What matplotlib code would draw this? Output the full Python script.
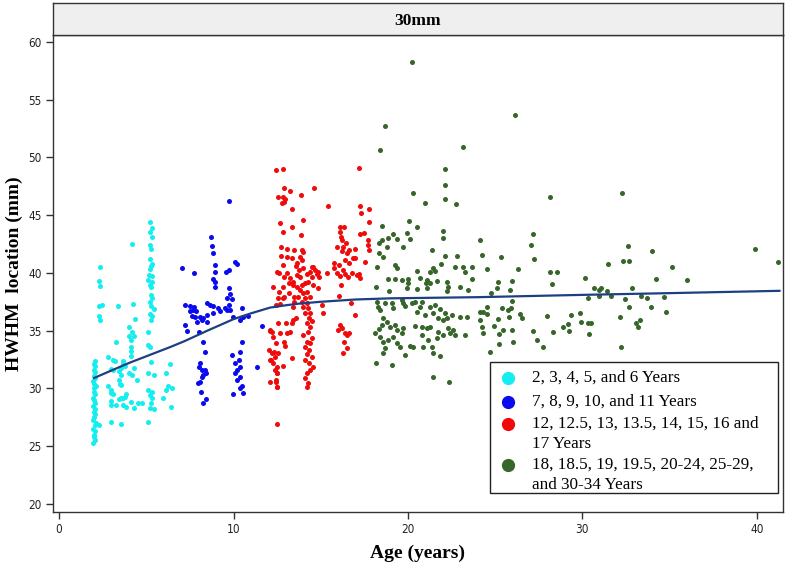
import matplotlib
matplotlib.use("Agg")
import matplotlib.pyplot as plt
from matplotlib.patches import Rectangle

# ---------------- data (age in years, HWHM location in mm) ----------------
cyan_age = [1.95, 2.05, 2.0, 1.98, 2.08, 1.97, 2.03, 2.1, 1.96, 2.02, 2.06, 1.99, 2.04, 1.95,
            2.07, 2.0, 1.97, 2.05, 2.02, 1.98, 2.09, 2.01, 1.96, 2.04, 2.0, 2.06, 1.98, 2.03,
            2.0, 2.05, 2.35, 2.3, 2.32, 2.3, 2.45, 2.3, 2.33, 2.31,
            3.4, 4.26, 4.17, 5.2, 5.35, 5.2, 5.35, 5.2, 5.25, 5.2, 5.3, 5.25, 5.2, 5.15, 5.35,
            5.1, 5.35, 5.2, 5.25, 5.25, 5.35, 5.2, 5.25, 5.45, 5.2, 5.35, 5.25, 5.1, 5.1, 5.2,
            5.25, 5.1, 5.45, 5.1, 5.35, 5.2, 5.35, 5.25, 5.2, 5.45, 5.1, 6.36, 6.13, 6.1, 6.25,
            6.45, 5.95, 6.4,
            4.36, 4.03, 4.2, 4.03, 4.27, 4.12, 3.27, 4.12, 4.12, 4.12, 2.83, 3.1, 3.2, 3.65,
            3.65, 3.55, 3.75, 3.1, 3.0, 4.3, 4.03, 4.2, 3.45, 3.55, 3.45, 3.5, 3.55, 4.45, 2.83,
            3.0, 3.1, 2.95, 3.83, 3.55, 3.65, 3.75, 3.45, 3.0, 2.95, 3.25, 4.12, 4.3, 4.5, 4.75,
            3.65, 3.85, 2.97, 3.55]
cyan_val = [25.3, 25.5, 25.8, 26.0, 26.3, 26.5, 26.8, 27.0, 27.3, 27.5, 27.8, 28.0, 28.2, 28.5,
            28.7, 29.0, 29.2, 29.5, 29.7, 30.0, 30.2, 30.4, 30.6, 30.9, 31.1, 31.4, 31.6, 31.9,
            32.1, 32.4, 40.5, 39.3, 38.9, 37.1, 37.2, 36.3, 35.9, 26.8,
            37.1, 37.3, 42.5, 44.4, 43.9, 43.5, 43.1, 42.4, 42.05, 41.2, 40.8, 40.6, 40.3, 39.8,
            39.7, 39.4, 39.25, 38.96, 38.76, 38.1, 37.8, 37.5, 37.1, 36.9, 36.45, 36.3, 35.9,
            34.9, 33.8, 33.6, 32.3, 31.3, 31.2, 29.9, 29.7, 29.4, 29.15, 28.7, 28.3, 28.2, 27.1,
            32.1, 31.3, 29.9, 30.2, 30.0, 29.2, 28.4,
            36.0, 35.35, 34.9, 34.5, 34.5, 34.2, 34.0, 33.6, 33.2, 32.8, 32.7, 32.5, 32.4, 32.4,
            32.1, 31.8, 31.9, 31.6, 31.7, 31.8, 31.3, 31.2, 31.5, 31.2, 30.7, 30.4, 30.3, 30.7,
            30.2, 29.9, 29.5, 29.6, 29.5, 29.2, 29.2, 29.3, 29.1, 28.9, 28.6, 28.6, 28.8, 28.3,
            28.7, 28.7, 28.6, 28.4, 27.1, 26.9]

blue_age = [9.74, 8.71, 8.75, 8.84, 7.03, 7.74, 8.94, 8.94, 8.84, 8.94, 8.94, 10.08, 10.18,
            9.76, 9.57, 9.76, 9.8, 9.65, 9.89, 9.76, 9.65, 7.22, 7.51, 7.74, 7.66, 7.51, 7.85,
            7.6, 7.79, 8.08, 7.89, 8.17, 8.46, 8.65, 8.8, 9.13, 9.23, 8.84, 8.46, 8.27, 8.46,
            9.51, 9.8, 9.95, 10.47, 10.52, 10.85, 10.37, 7.22, 7.32, 8.04, 11.61, 10.47, 10.37,
            9.89, 10.33, 8.23, 8.37, 8.08, 8.04, 8.17, 8.37, 8.27, 8.17, 8.08, 8.42, 7.98, 8.12,
            8.42, 8.23, 10.08, 10.37, 10.18, 10.08, 10.37, 10.47, 10.37, 9.99, 10.56, 10.18, 11.33]
blue_val = [46.2, 43.1, 42.3, 41.76, 40.41, 39.97, 40.7, 40.12, 39.45, 39.25, 38.82, 40.98,
            40.78, 40.26, 40.12, 38.67, 38.18, 37.81, 37.72, 37.23, 36.8, 37.23, 37.15, 37.09,
            36.8, 36.66, 36.66, 36.28, 36.22, 36.22, 35.79, 35.93, 37.38, 37.23, 37.15, 36.94,
            36.66, 36.51, 36.37, 36.08, 35.79, 36.94, 36.8, 36.22, 36.94, 36.22, 36.28, 35.93,
            35.5, 35.01, 34.92, 35.41, 34.06, 33.19, 32.9, 32.47, 34.06, 33.19, 32.18, 31.89,
            31.6, 31.6, 31.17, 31.03, 30.59, 31.32, 30.51, 29.73, 29.09, 28.72, 32.18, 31.84,
            31.6, 31.37, 31.03, 30.22, 30.02, 29.53, 29.58, 30.74, 31.89]

red_age = [12.7, 13.05, 13.47, 12.7, 13.33, 13.09, 12.86, 12.51, 12.63, 13.05, 12.9, 13.24,
           13.2, 13.43, 12.25, 12.86, 12.63, 13.2, 12.9, 12.57, 12.82, 13.47, 12.44, 12.67,
           13.43, 13.47, 12.09, 12.19, 12.57, 12.67, 13.05, 13.01, 13.33, 13.24, 13.43, 13.58,
           12.44, 12.9, 12.05, 12.32, 12.57, 12.95, 13.33, 12.13, 12.28, 12.48, 12.38, 12.82,
           12.09, 12.44, 12.48, 12.48, 12.51,
           12.9, 13.24, 12.57, 12.82, 12.95, 12.76, 12.9, 13.35, 12.67, 12.82, 13.33, 12.44,
           12.82,
           13.85, 14.61, 13.97, 13.85,
           13.91, 14.0, 13.81, 13.66, 13.91, 13.58, 13.77, 14.0, 14.48, 14.39, 14.67, 14.86,
           13.62, 13.81, 14.19, 14.48, 14.81, 13.43, 13.62, 13.91, 14.1, 14.29, 14.58, 13.81,
           14.0, 14.19, 13.72, 14.1, 14.39, 14.86, 13.91, 14.19, 13.97, 14.29, 14.39, 14.1,
           14.35, 14.48, 14.19, 14.39, 14.29, 14.0, 14.48, 14.19, 14.39, 14.1, 14.35, 14.19,
           14.48, 14.1, 14.35, 14.58, 14.39, 14.19, 14.1, 14.29, 14.19,
           15.4, 16.1, 16.33, 16.1, 16.14, 16.2, 16.45, 16.3, 15.95, 16.64, 16.2, 16.96, 16.52,
           16.87, 15.76, 16.07, 16.26, 15.76, 15.95, 16.39, 16.1, 16.58, 16.77, 17.06, 17.25,
           17.21, 16.39, 16.64, 16.98, 15.34, 16.16, 16.03, 16.72, 16.96, 16.1, 16.2, 16.01,
           16.39, 16.64, 16.52, 16.33, 16.3, 16.49, 15.05, 15.15, 14.92, 14.58, 17.25, 17.29,
           17.75, 17.75, 17.25, 17.48, 17.73, 17.73, 17.79, 17.54, 17.21,
           12.09, 12.28, 12.19, 12.38, 12.09, 12.47, 12.43, 12.47]
red_val = [42.28, 42.05, 42.0, 41.47, 41.27, 41.4, 40.7, 40.1, 40.03, 40.03, 39.68, 39.54,
           39.16, 39.25, 38.76, 38.76, 38.38, 38.24, 37.95, 37.81, 37.81, 37.95, 37.23, 37.32,
           37.09, 37.52, 35.0, 34.92, 35.64, 34.84, 34.84, 35.7, 35.64, 34.92, 35.93, 36.08,
           33.91, 34.06, 33.33, 33.19, 33.05, 33.68, 32.61, 32.47, 32.18, 31.89, 31.6, 31.95,
           30.59, 30.59, 31.31, 30.1, 26.9,
           47.33, 47.13, 46.55, 46.61, 46.38, 46.03, 46.18, 45.51, 44.3, 43.58, 43.95, 48.92,
           48.98,
           46.75, 47.33, 44.59, 43.29,
           42.0, 41.85, 41.41, 40.84, 41.13, 40.61, 40.26, 40.4, 40.55, 40.12, 40.26, 40.12,
           39.83, 39.68, 39.91, 39.68, 39.91, 38.96, 38.82, 38.96, 39.11, 39.25, 38.96, 38.53,
           38.24, 38.38, 37.95, 37.81, 37.95, 38.67, 37.52, 37.37, 37.09, 36.94, 36.57, 36.51,
           36.08, 35.87, 35.64, 35.35, 34.92, 34.63, 34.34, 34.06, 33.91, 33.62, 33.33, 32.99,
           32.76, 32.47, 32.18, 31.89, 31.6, 31.31, 30.88, 30.45, 30.16,
           45.8, 44.01, 44.01, 43.58, 43.15, 42.86, 42.63, 42.28, 42.28, 42.0, 41.93, 42.05,
           41.7, 41.27, 40.84, 40.69, 40.26, 40.4, 40.03, 39.91, 39.74, 39.68, 39.97, 39.83,
           39.54, 39.91, 41.13, 40.9, 41.27, 39.97, 38.96, 38.01, 37.37, 36.36, 35.5, 35.21,
           35.07, 34.78, 34.84, 34.63, 34.06, 33.1, 33.48, 37.23, 36.51, 39.68, 40.55, 45.8,
           45.17, 45.51, 44.45, 43.38, 43.44, 42.86, 42.43, 42.0, 40.98, 49.06,
           35.07, 34.49, 33.05, 32.76, 32.47, 31.31, 30.74, 30.16]

green_age = [20.21, 18.68, 18.39, 23.13, 22.12, 22.12, 22.12, 20.26, 20.97, 22.73, 20.07, 20.49,
             18.53, 22.02, 22.02, 19.92, 20.11, 19.16, 18.87, 19.35, 18.49, 18.35, 18.77, 19.69,
             21.39, 22.12, 22.79, 26.13, 18.36, 18.55,
             21.88, 18.21, 19.26, 19.35, 21.42, 21.55, 21.27, 21.11, 21.27, 20.54, 20.69, 20.02,
             20.02, 19.64, 19.26, 18.88, 18.17, 18.93, 19.93, 20.5, 21.04, 21.11, 21.68, 22.22,
             22.31, 22.22, 22.7, 23.14, 23.27, 23.65, 23.0, 23.46, 23.65,
             18.21, 18.3, 18.4, 18.69, 19.07, 19.16, 19.64, 19.74, 19.83, 20.21, 20.4, 20.79,
             18.59, 18.78, 18.49, 18.36, 18.97, 19.26, 19.35, 19.74, 19.64, 19.16, 18.88, 18.59,
             18.4, 18.11, 18.17, 19.07, 18.59, 18.69, 19.35, 19.54, 19.83, 20.12, 20.31, 20.5,
             20.69, 20.98, 21.27, 21.46, 21.55, 21.84, 22.12, 22.03, 21.74, 22.22, 22.51, 22.98,
             23.37, 20.4, 20.79, 21.08, 21.27, 21.74, 22.03, 22.41, 22.7, 23.27, 22.6, 22.31,
             20.79, 21.17, 21.36, 21.65, 21.46, 21.84, 20.88, 21.42, 22.37,
             28.14, 32.27, 27.15, 27.05, 27.24, 32.59, 33.99, 39.89, 41.23, 32.34, 32.67, 31.48,
             35.11, 26.33, 28.14, 28.56, 24.55, 25.31, 24.23, 24.13, 34.22, 35.97, 30.17, 28.26,
             25.18, 25.98, 25.12, 25.87, 24.78, 30.66, 30.97, 31.06, 31.39, 31.64, 32.86, 30.3,
             30.97, 33.34, 33.68, 34.67, 32.46, 25.98, 32.69, 33.95, 34.77, 24.55, 25.37, 25.75,
             25.89, 24.32, 24.13, 24.51, 26.42, 26.52, 27.99, 29.33, 29.86, 29.92, 30.3, 30.49,
             25.18, 25.79, 24.95, 25.47, 25.95, 24.23, 24.32, 24.13, 28.91, 29.19, 29.25, 32.15,
             33.05, 33.3, 33.17, 27.15, 28.29, 27.42, 27.76, 25.24, 26.04, 25.24, 24.7, 30.4,
             32.19]
green_val = [58.24, 52.76, 50.62, 50.88, 48.98, 47.62, 46.38, 46.93, 46.06, 46.01, 44.51, 43.99,
             44.07, 43.67, 43.03, 43.44, 42.95, 43.35, 43.0, 42.95, 42.86, 42.57, 42.23, 42.23,
             41.99, 41.45, 41.45, 53.65, 41.76, 41.41,
             40.78, 40.55, 40.69, 40.4, 40.4, 40.2, 40.12, 39.39, 39.11, 40.2, 39.54, 39.45,
             39.11, 39.39, 39.45, 39.45, 38.82, 38.47, 38.67, 38.59, 39.11, 38.67, 39.34, 39.25,
             38.76, 38.47, 40.49, 40.55, 40.12, 40.55, 38.82, 38.53, 39.45,
             37.52, 37.03, 36.8, 37.37, 37.37, 36.94, 37.66, 37.37, 37.14, 37.43, 37.52, 37.52,
             36.07, 35.79, 35.5, 35.12, 35.35, 35.5, 35.07, 35.21, 34.78, 34.49, 34.2, 34.05,
             34.49, 34.78, 32.18, 32.03, 33.05, 33.48, 33.91, 33.62, 32.9, 33.68, 33.62, 36.65,
             37.09, 36.36, 37.09, 36.51, 37.23, 36.85, 36.51, 35.93, 36.07, 36.07, 36.36, 36.22,
             36.22, 35.41, 35.35, 35.21, 35.35, 34.92, 34.63, 34.78, 34.63, 34.63, 35.07, 35.21,
             34.63, 34.2, 33.62, 34.34, 33.05, 32.81, 33.62, 31.02, 30.59,
             46.61, 46.9, 43.35, 42.42, 41.24, 42.34, 41.93, 42.05, 40.98, 41.04, 41.04, 40.75,
             40.55, 40.34, 40.06, 40.11, 40.34, 41.35, 41.53, 42.86, 39.45, 39.39, 39.54, 39.05,
             39.25, 39.33, 38.73, 38.53, 38.24, 38.67, 38.53, 38.67, 38.44, 38.04, 38.67, 37.86,
             38.01, 38.01, 37.8, 37.95, 37.72, 37.6, 37.02, 37.02, 36.62, 37.08, 36.94, 36.8,
             36.94, 36.65, 36.65, 36.42, 36.45, 36.07, 36.27, 36.33, 36.56, 35.76, 35.64, 35.7,
             36.04, 36.22, 35.41, 35.09, 35.03, 35.35, 34.83, 35.93, 35.3, 35.55, 34.98, 36.16,
             35.64, 35.93, 35.35, 34.98, 34.89, 34.2, 33.56, 34.69, 34.03, 33.88, 33.16, 34.69,
             33.56]

fit_age = [2.0, 4.0, 6.4, 7.2, 8.5, 10.0, 11.0, 12.1, 13.0, 13.8, 15.0, 17.0, 19.0, 24.0, 30.0, 35.0, 41.3]
fit_val = [30.9, 32.2, 33.6, 34.1, 35.0, 36.0, 36.5, 37.0, 37.2, 37.35, 37.5, 37.7, 37.8, 37.9, 38.1, 38.25, 38.45]

legend_labels = ["2, 3, 4, 5, and 6 Years",
                 "7, 8, 9, 10, and 11 Years",
                 "12, 12.5, 13, 13.5, 14, 15, 16 and\n17 Years",
                 "18, 18.5, 19, 19.5, 20-24, 25-29,\nand 30-34 Years"]
colors = ["#14EEF0", "#0A0AF0", "#F00A0A", "#36662A"]

x_ticks = [0, 10, 20, 30, 40]
y_ticks = [20, 25, 30, 35, 40, 45, 50, 55, 60]

# ---------------- figure ----------------
serif = ["Liberation Serif", "DejaVu Serif"]

fig = plt.figure(figsize=(7.88, 5.62), dpi=100)
ax = fig.add_axes([53 / 788, 50 / 562, 730 / 788, 477 / 562])

series = [(cyan_age, cyan_val), (blue_age, blue_val), (red_age, red_val), (green_age, green_val)]
for (xs, ys), c in zip(series, colors):
    ax.scatter(xs, ys, s=13, color=c, linewidths=0, zorder=2)

ax.plot(fit_age, fit_val, color="#1C3F82", lw=1.6, zorder=3)

ax.set_xlim(-0.35, 41.5)
ax.set_ylim(19.3, 60.6)
ax.set_xticks(x_ticks)
ax.set_yticks(y_ticks)
for lab in ax.get_xticklabels() + ax.get_yticklabels():
    lab.set_family("DejaVu Sans")
    lab.set_stretch("condensed")
    lab.set_fontsize(8.5)
    lab.set_color("#222222")
ax.tick_params(direction="out", length=5, width=1, color="#333333", pad=3)
for sp in ax.spines.values():
    sp.set_color("#333333")
    sp.set_linewidth(1.0)

ax.set_xlabel("Age (years)", family=serif, fontweight="bold", fontsize=14, labelpad=6)
ax.set_ylabel("HWHM  location (mm)", family=serif, fontweight="bold", fontsize=14, labelpad=4)

# title strip
strip = fig.add_axes([53 / 788, 527 / 562, 730 / 788, 32 / 562])
strip.set_facecolor("#EFEFEF")
strip.set_xticks([])
strip.set_yticks([])
for sp in strip.spines.values():
    sp.set_color("#333333")
    sp.set_linewidth(1.0)
strip.text(0.5, 0.45, "30mm", ha="center", va="center", family=serif,
           fontweight="bold", fontsize=12.5, transform=strip.transAxes)

# legend (drawn manually so that markers align with the first text line)
ax.add_patch(Rectangle((0.599, 0.040), 0.394, 0.275, transform=ax.transAxes,
                       facecolor="white", edgecolor="#222222", lw=1.0, zorder=5))
line_y = [[0.281], [0.2306], [0.1845, 0.1426], [0.0985, 0.0566]]
for lbl, c, ys in zip(legend_labels, colors, line_y):
    ax.plot([0.623], [ys[0]], marker="o", markersize=8.5, color=c, transform=ax.transAxes,
            zorder=6, clip_on=False)
    for part, yy in zip(lbl.split("\n"), ys):
        ax.text(0.656, yy, part, transform=ax.transAxes, ha="left", va="center",
                family=serif, fontsize=12.3, zorder=6)

fig.savefig("out.png", dpi=100)
